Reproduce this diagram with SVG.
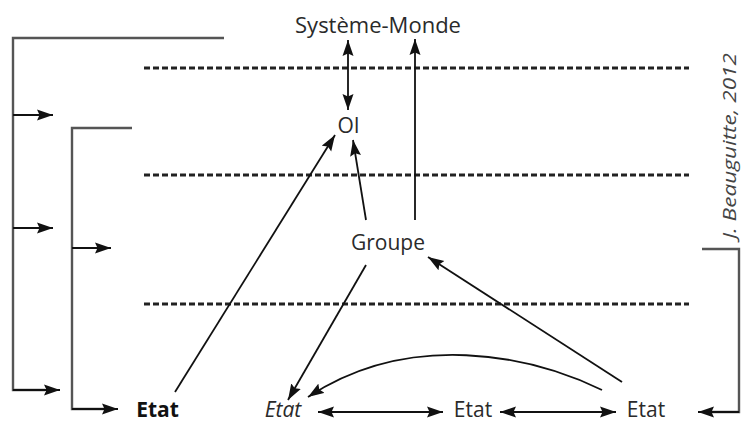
<svg xmlns="http://www.w3.org/2000/svg" width="741" height="422" viewBox="0 0 741 422">
<style>
.bg{fill:#ffffff}
.lbl{font-family:"Open Sans","Liberation Sans",sans-serif;font-size:21px;fill:#2a2a2a;text-anchor:middle}
.big{font-size:22px}
.bold{font-weight:bold;fill:#111}
.ital{font-style:italic}
.credit{font-family:"Open Sans","Liberation Sans",sans-serif;font-size:18px;font-style:italic;fill:#444;text-anchor:middle}
.dash{stroke:#222;stroke-width:3;stroke-dasharray:6 3;fill:none}
.brk{stroke:#555;stroke-width:2.4;fill:none}
.arr{stroke:#111;stroke-width:1.8;fill:none;marker-end:url(#ah)}
.arr2{stroke:#111;stroke-width:1.8;fill:none;marker-end:url(#ah);marker-start:url(#ah)}
</style>
<defs>
<marker id="ah" markerUnits="userSpaceOnUse" markerWidth="17" markerHeight="12" refX="16" refY="5.5" orient="auto-start-reverse" viewBox="0 0 17 11">
<path d="M0,0 L16,5.5 L0,11 L2.5,5.5 z" fill="#111"/>
</marker>
</defs>
<rect class="bg" x="0" y="0" width="741" height="422"/>
<g id="levels">
<line class="dash" x1="144" y1="68" x2="689" y2="68"/>
<line class="dash" x1="144" y1="175" x2="689" y2="175"/>
<line class="dash" x1="144" y1="304" x2="689" y2="304"/>
</g>
<g id="brackets">
<path class="brk" d="M224,38 H13 V390 H45"/>
<path class="brk" d="M132,128 H72 V409 H105"/>
<path class="brk" d="M702,249 H739 V412 H712"/>
</g>
<g id="connectors">
<line class="arr" x1="13" y1="115" x2="53" y2="115"/>
<line class="arr" x1="13" y1="228" x2="53" y2="228"/>
<line class="arr" x1="13" y1="390" x2="60" y2="390"/>
<line class="arr" x1="72" y1="248" x2="111" y2="248"/>
<line class="arr" x1="72" y1="409" x2="118" y2="409"/>
<line class="arr" x1="739" y1="412" x2="698" y2="412"/>
<line class="arr2" x1="348" y1="40" x2="348" y2="110"/>
<line class="arr" x1="415" y1="220" x2="415" y2="39"/>
<line class="arr" x1="366" y1="220" x2="353" y2="140"/>
<line class="arr" x1="175" y1="392" x2="335" y2="135"/>
<line class="arr" x1="366" y1="265" x2="288" y2="400"/>
<line class="arr" x1="622" y1="382" x2="428" y2="257"/>
<path class="arr" d="M602,390 C530,355 410,330 308,397"/>
<line class="arr2" x1="318" y1="412" x2="443" y2="412"/>
<line class="arr2" x1="500" y1="412" x2="616" y2="412"/>
</g>
<g id="systeme-monde"><text class="lbl big" x="378" y="33">Système-Monde</text></g>
<g id="oi"><text class="lbl" x="348.5" y="133">OI</text></g>
<g id="groupe"><text class="lbl" x="388" y="250">Groupe</text></g>
<g id="etat-1"><text class="lbl bold" x="157.5" y="417">Etat</text></g>
<g id="etat-2"><text class="lbl ital" x="283" y="417">Etat</text></g>
<g id="etat-3"><text class="lbl" x="473" y="417">Etat</text></g>
<g id="etat-4"><text class="lbl" x="646" y="417">Etat</text></g>
<g id="credit"><text class="credit" transform="translate(736,146) rotate(-90)" x="0" y="0" textLength="186" lengthAdjust="spacingAndGlyphs">J. Beauguitte, 2012</text></g>
</svg>
